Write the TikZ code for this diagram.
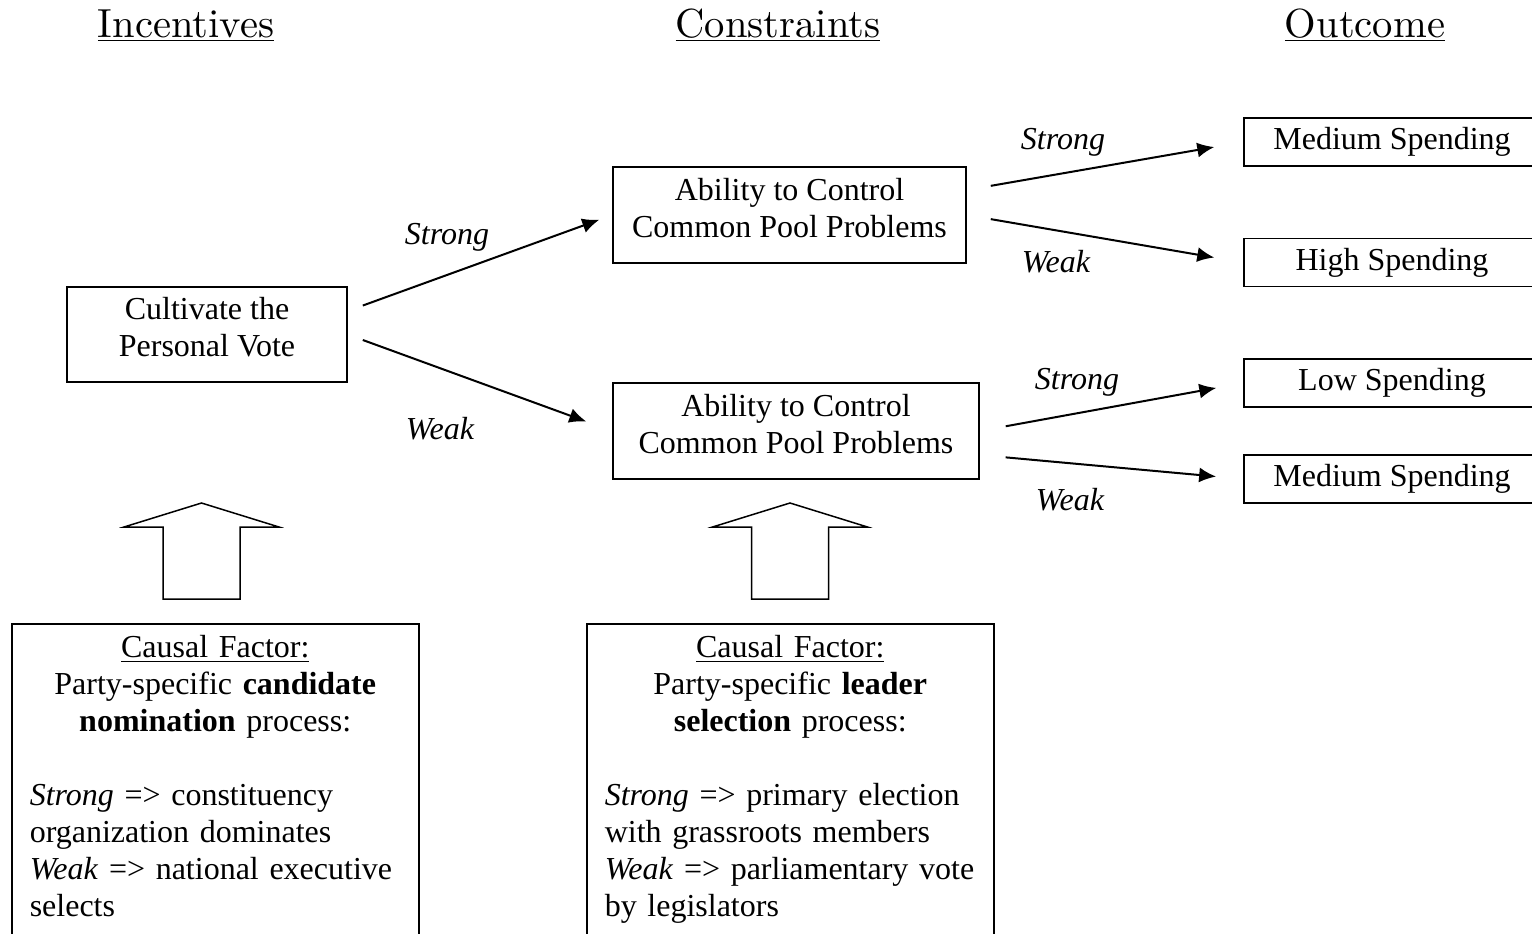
\documentclass[tikz,border=0pt]{standalone}
\usepackage{fontspec}
\newfontfamily\bodyfont{Liberation Serif}
\newfontfamily\headfont{lmroman10-regular.otf}
\usetikzlibrary{arrows.meta}
\tikzset{
  head/.style={anchor=base, font=\headfont\fontsize{20.3}{24}\selectfont},
  box/.style={draw, line width=0.75pt, inner sep=0pt, align=center,
    font=\bodyfont\fontsize{16}{18.5}\selectfont},
  twoline/.style={box, text depth=7.3pt},
  outbox/.style={box, minimum width=148pt, minimum height=24pt},
  lbl/.style={font=\bodyfont\itshape\fontsize{16}{18.5}\selectfont},
  link/.style={line width=1pt, -{Latex[length=8.5pt,width=7.5pt]}},
  causal/.style={draw, line width=0.75pt, anchor=north west, text width=185.5pt,
    inner xsep=9pt, inner ysep=6pt, font=\bodyfont\fontsize{16}{18.5}\selectfont,
    execute at begin node={\setlength{\parindent}{0pt}}},
  bigarrow/.style={line width=0.75pt}
}

\begin{document}
\begin{tikzpicture}[x=0.5pt,y=-0.5pt]
  \useasboundingbox (0,0) rectangle (1532,933);
  \clip (0,0) rectangle (1532,933);
  % Column headings
  \node[head] (hinc) at (186,37) {\underline{Incentives}};
  \node[head] (hcon) at (778,37) {\underline{Constraints}};
  \node[head] (hout) at (1365,37) {\underline{Outcome}};
  % Incentive and constraint boxes
  \node[twoline, minimum width=140pt, minimum height=47.5pt] (cult) at (207,334.5) {Cultivate the\\Personal Vote};
  \node[twoline, minimum width=176.5pt, minimum height=48pt] (poolA) at (789.5,215) {Ability to Control\\Common Pool Problems};
  \node[twoline, minimum width=183pt, minimum height=48pt] (poolB) at (796,431) {Ability to Control\\Common Pool Problems};
  % Outcomes
  \node[outbox] (medA) at (1392,142) {Medium Spending};
  \node[outbox] (high) at (1392,262.5) {High Spending};
  \node[outbox] (low) at (1392,383) {Low Spending};
  \node[outbox] (medB) at (1392,479) {Medium Spending};
  % Links
  \draw[link, shorten <=8pt, shorten >=6.9pt] ([yshift=11.75pt]cult.east) -- (poolA.west);
  \draw[link, shorten <=8pt, shorten >=13.8pt] (cult.east) -- (poolB.west);
  \draw[link, shorten <=12.2pt, shorten >=14.7pt] ([yshift=12.5pt]poolA.east) -- (medA.west);
  \draw[link, shorten <=12.2pt, shorten >=14.7pt] (poolA.east) -- (high.west);
  \draw[link, shorten <=13.2pt, shorten >=13.7pt] (poolB.east) -- (low.west);
  \draw[link, shorten <=13pt, shorten >=13.6pt] ([yshift=-12pt]poolB.east) -- (medB.west);
  % Link labels
  \node[lbl] (sA) at (447,237) {Strong};
  \node[lbl] (wA) at (440,429) {Weak};
  \node[lbl] (sB) at (1063,142) {Strong};
  \node[lbl] (wB) at (1056,262) {Weak};
  \node[lbl] (sC) at (1077,382) {Strong};
  \node[lbl] (wC) at (1070,500) {Weak};
  % Block arrows
  \foreach \cx in {201.5,790}
    \draw[bigarrow] (\cx-38.5,599) -- (\cx-38.5,527) -- (\cx-77.5,527) -- (\cx,503)
      -- (\cx+77.5,527) -- (\cx+38.5,527) -- (\cx+38.5,599) -- cycle;
  % Causal factors
  \node[causal] (cand) at (11,623) {{\centering \underline{Causal Factor:}\\
      Party-specific \textbf{candidate}\\
      \textbf{nomination} process:\par}
    \vspace{18.5pt}\raggedright
    \textit{Strong} => constituency\\
    organization dominates\\
    \textit{Weak} => national executive\\
    selects\rule[-30pt]{0pt}{30pt}\par};
  \node[causal] (lead) at (586,623) {{\centering \underline{Causal Factor:}\\
      Party-specific \textbf{leader}\\
      \textbf{selection} process:\par}
    \vspace{18.5pt}\raggedright
    \textit{Strong} => primary election\\
    with grassroots members\\
    \textit{Weak} => parliamentary vote\\
    by legislators\rule[-30pt]{0pt}{30pt}\par};
\end{tikzpicture}
\end{document}
